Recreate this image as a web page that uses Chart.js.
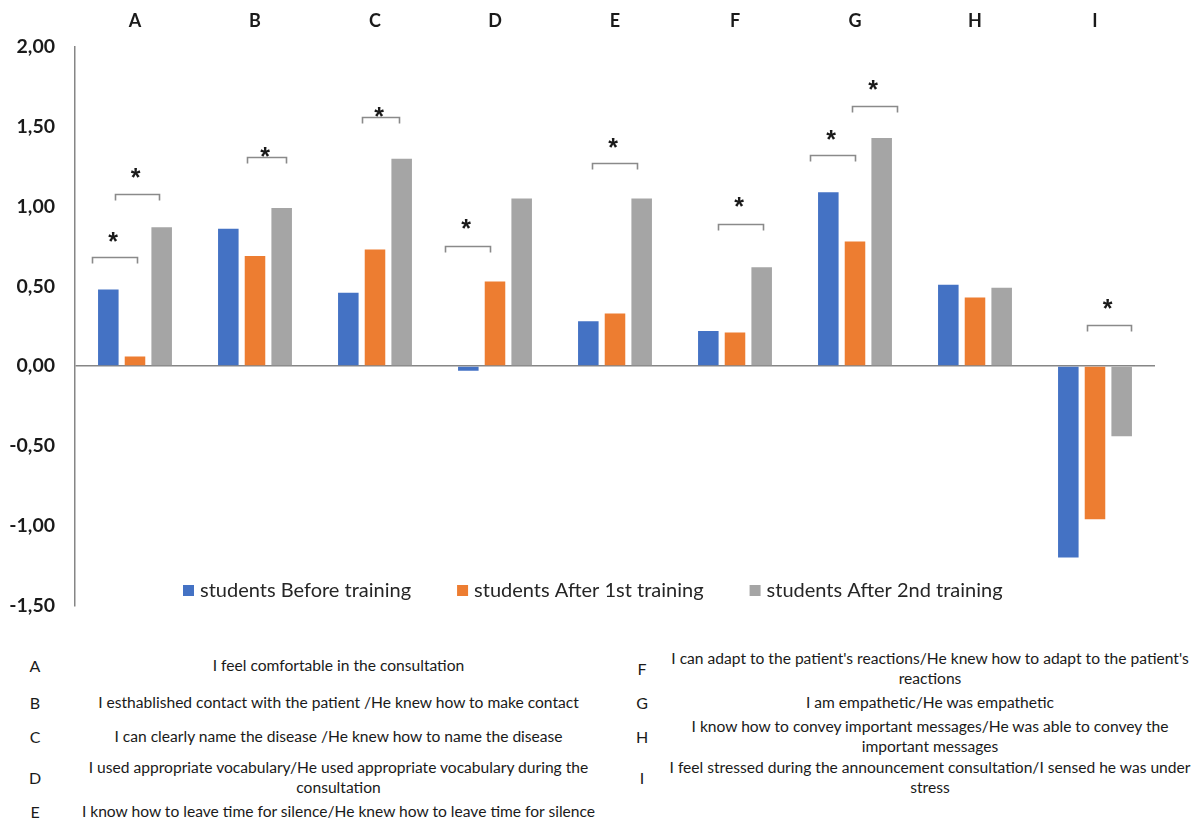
<!DOCTYPE html>
<html>
<head>
<meta charset="utf-8">
<title>Self-assessment scores by training stage</title>
<script src="https://cdn.jsdelivr.net/npm/chart.js@4.4.1/dist/chart.umd.min.js"></script>
<style>
  html, body { margin: 0; padding: 0; background: #fff; width: 1204px; height: 819px; overflow: hidden; }
  #plot { position: absolute; left: 0; top: 0; width: 1204px; height: 637px; }
  .row { position: absolute; height: 44px; display: flex; align-items: center;
         font-family: Lato, "Open Sans", sans-serif; color: #1a1a1a; }
  .letter { position: absolute; width: 30px; text-align: center; font-size: 16px; }
  .text { position: absolute; text-align: center; font-size: 15.6px; line-height: 20px; }
</style>
</head>
<body>
<div id="plot"><canvas id="chart"></canvas></div>
<div id="key"></div>
<script>
// Item codes shown above each group of bars
const categories = ['A', 'B', 'C', 'D', 'E', 'F', 'G', 'H', 'I'];

// Mean scores per item for each stage
const beforeTraining   = [0.48, 0.86, 0.46, -0.03, 0.28, 0.22, 1.09, 0.51, -1.20];
const after1stTraining = [0.06, 0.69, 0.73,  0.53, 0.33, 0.21, 0.78, 0.43, -0.96];
const after2ndTraining = [0.87, 0.99, 1.30,  1.05, 1.05, 0.62, 1.43, 0.49, -0.44];

const seriesNames = ['students Before training', 'students After 1st training', 'students After 2nd training'];

// Value axis ticks
const yTicks = [-1.5, -1.0, -0.5, 0, 0.5, 1.0, 1.5, 2.0];

// Significant differences: item, bracket start / end (share of the item slot from its centre),
// bracket height and asterisk height on the value axis
const significance = [
  ['A', -0.36, 0.02, 0.685, 0.81],
  ['A', -0.17, 0.20, 1.08, 1.21],
  ['B', -0.07, 0.26, 1.31, 1.34],
  ['C', -0.11, 0.20, 1.56, 1.59],
  ['D', -0.42, -0.04, 0.75, 0.89],
  ['E', -0.19, 0.18, 1.27, 1.40],
  ['F', -0.14, 0.23, 0.89, 1.03],
  ['G', -0.375, 0.00, 1.32, 1.45],
  ['G', -0.025, 0.35, 1.63, 1.76],
  ['I', -0.07, 0.30, 0.26, 0.39]
];

// Item wording
const descriptions = [
  ['A', 'I feel comfortable in the consultation'],
  ['B', 'I esthablished contact with the patient /He knew how to make contact'],
  ['C', 'I can clearly name the disease /He knew how to name the disease'],
  ['D', 'I used appropriate vocabulary/He used appropriate vocabulary during the consultation'],
  ['E', 'I know how to leave time for silence/He knew how to leave time for silence'],
  ['F', "I can adapt to the patient's reactions/He knew how to adapt to the patient's reactions"],
  ['G', 'I am empathetic/He was empathetic'],
  ['H', 'I know how to convey important messages/He was able to convey the important messages'],
  ['I', 'I feel stressed during the announcement consultation/I sensed he was under stress']
];

const colors = ['#4472C4', '#ED7D31', '#A5A5A5'];
const axisGray = '#868686';

// Key table under the chart: two columns of code + wording
(function buildKey() {
  const columns = [
    { items: descriptions.slice(0, 5), letterX: 20, textX: 71, textW: 535, centres: [665, 702, 736, 777, 811] },
    { items: descriptions.slice(5),    letterX: 627, textX: 660, textW: 540, centres: [668, 702, 736, 777] }
  ];
  const key = document.getElementById('key');
  columns.forEach(col => {
    col.items.forEach((d, i) => {
      const row = document.createElement('div');
      row.className = 'row';
      row.style.top = (col.centres[i] - 22) + 'px';
      row.style.left = '0px';
      const l = document.createElement('div');
      l.className = 'letter';
      l.style.left = col.letterX + 'px';
      l.textContent = d[0];
      const t = document.createElement('div');
      t.className = 'text';
      t.style.left = col.textX + 'px';
      t.style.width = col.textW + 'px';
      t.textContent = d[1];
      row.appendChild(l);
      row.appendChild(t);
      key.appendChild(row);
    });
  });
})();

// Brackets, asterisks and the in-plot legend
const annotate = {
  id: 'annotate',
  afterDatasetsDraw(chart) {
    const { ctx, scales: { x, y } } = chart;
    const slot = x.getPixelForValue(1) - x.getPixelForValue(0);
    ctx.save();
    ctx.strokeStyle = '#8a8a8a';
    ctx.lineWidth = 1.6;
    ctx.font = 'bold 25px "Liberation Sans", Arial, sans-serif';
    ctx.textAlign = 'center';
    ctx.textBaseline = 'alphabetic';
    const m = ctx.measureText('*');
    const starShift = (m.actualBoundingBoxAscent - m.actualBoundingBoxDescent) / 2;
    significance.forEach(([cat, a, b, level, star]) => {
      const cx = x.getPixelForValue(categories.indexOf(cat));
      const x0 = Math.round(cx + a * slot) + 0.5;
      const x1 = Math.round(cx + b * slot) + 0.5;
      const yy = Math.round(y.getPixelForValue(level)) + 0.5;
      ctx.beginPath();
      ctx.moveTo(x0, yy + 6);
      ctx.lineTo(x0, yy);
      ctx.lineTo(x1, yy);
      ctx.lineTo(x1, yy + 6);
      ctx.stroke();
      ctx.fillStyle = '#1a1a1a';
      ctx.fillText('*', (x0 + x1) / 2 - 2, y.getPixelForValue(star) + starShift);
    });

    // legend row inside the lower part of the plot
    ctx.font = '20px Lato, "Open Sans", sans-serif';
    ctx.textAlign = 'left';
    ctx.textBaseline = 'middle';
    let lx = 183;
    const ly = 591;
    chart.data.datasets.forEach(ds => {
      ctx.fillStyle = ds.backgroundColor;
      ctx.fillRect(lx, ly - 6, 11, 11);
      ctx.fillStyle = '#262626';
      ctx.fillText(ds.label, lx + 17, ly);
      lx += 17 + ctx.measureText(ds.label).width + 46;
    });
    ctx.restore();
  }
};

const fmt = v => v.toFixed(2).replace('.', ',');

new Chart(document.getElementById('chart'), {
  type: 'bar',
  data: {
    labels: categories,
    datasets: [
      { label: seriesNames[0], data: beforeTraining,   backgroundColor: colors[0] },
      { label: seriesNames[1], data: after1stTraining, backgroundColor: colors[1] },
      { label: seriesNames[2], data: after2ndTraining, backgroundColor: colors[2] }
    ]
  },
  options: {
    responsive: true,
    maintainAspectRatio: false,
    animation: false,
    events: [],
    datasets: { bar: { categoryPercentage: 0.667, barPercentage: 0.77 } },
    layout: { padding: { left: 0, right: 49, top: 0, bottom: 0 } },
    plugins: { legend: { display: false }, tooltip: { enabled: false } },
    scales: {
      x: {
        position: 'top',
        grid: { display: false, drawTicks: false },
        border: { display: false },
        ticks: { font: { family: 'Lato, "Open Sans", sans-serif', size: 18, weight: 'bold' }, color: '#1a1a1a', padding: 15 },
        afterFit: s => { s.height = 47; }
      },
      y: {
        min: yTicks[0],
        max: yTicks[yTicks.length - 1],
        afterBuildTicks: s => { s.ticks = yTicks.map(v => ({ value: v })); },
        grid: {
          drawTicks: false,
          color: c => (c.tick && c.tick.value === 0 ? axisGray : 'rgba(0,0,0,0)'),
          lineWidth: 1.5
        },
        border: { display: true, color: axisGray, width: 1.5 },
        ticks: {
          callback: v => fmt(v),
          font: { family: 'Lato, "Open Sans", sans-serif', size: 19.5, weight: 'bold' },
          color: '#1a1a1a',
          padding: 20
        },
        afterFit: s => { s.width = 75; }
      }
    }
  },
  plugins: [annotate]
});
</script>
</body>
</html>
